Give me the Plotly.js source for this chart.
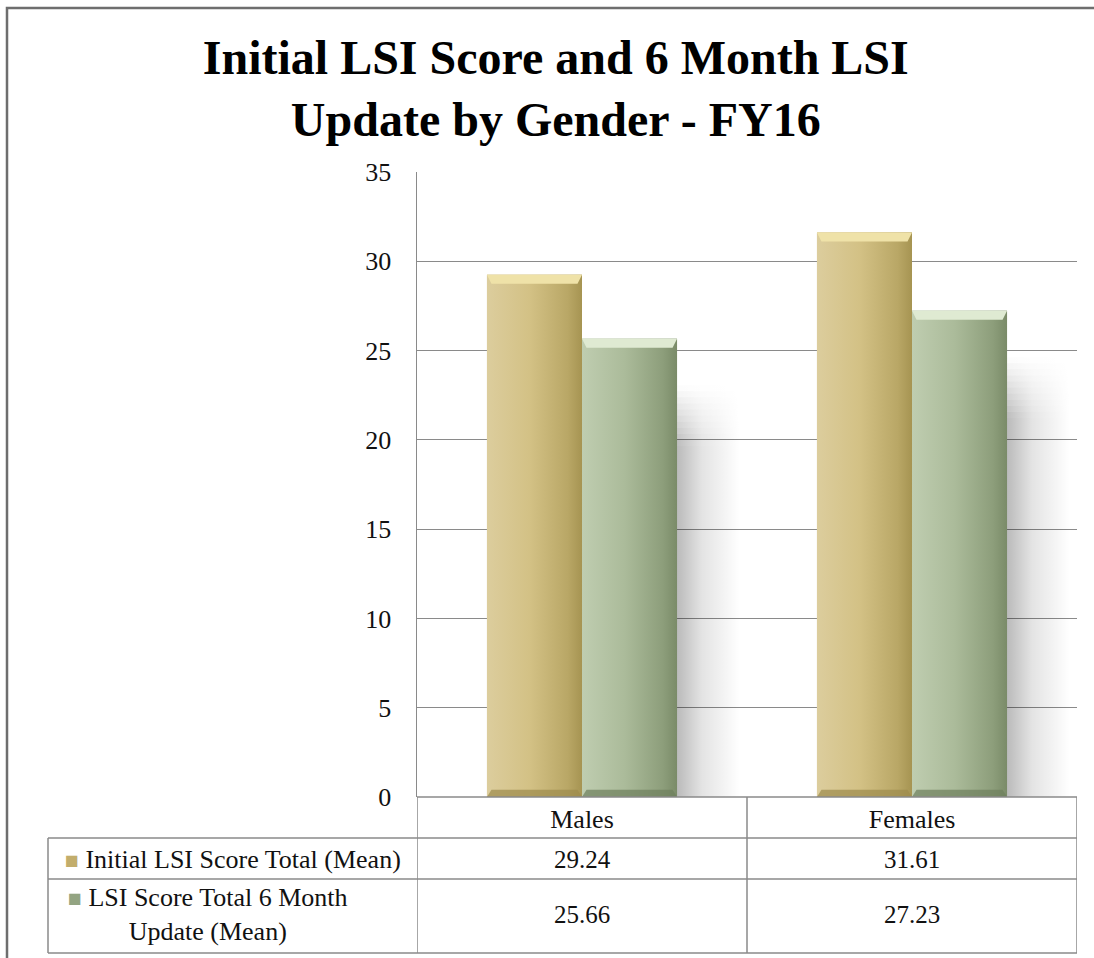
<!DOCTYPE html>
<html>
<head>
<meta charset="utf-8">
<script src="https://cdn.plot.ly/plotly-3.0.1.min.js"></script>
<style>
  html, body { margin: 0; padding: 0; background: #fff; }
  #chart { width: 1094px; height: 958px; }
</style>
</head>
<body>
<div id="chart"></div>
<script>
// Chart data
const categories = ['Males', 'Females'];
const initialScores = [29.24, 31.61];
const updateScores = [25.66, 27.23];
const seriesNames = ['Initial LSI Score Total (Mean)', 'LSI Score Total 6 Month<br>Update (Mean)'];

const FONT = 'Liberation Serif, Times New Roman, serif';

// Plot area in pixels (used to place the table lines and the frame)
const L = 417, R = 1077, T = 172, B = 797;
const px = x => (x - L) / (R - L);
const py = y => (B - y) / (B - T);

// Bar geometry in x data units (one category = 1 unit)
const barWidth = 0.288;
const unitPx = (B - T) / 35;
const bevelX = 9 / (R - L);
const bevelY = 9 / unitPx;

const series = [
    {
        name: seriesNames[0],
        values: initialScores,
        offset: -barWidth,
        color: '#cdbb80',
        key: '#c2ad6c',
        grad: [[0, '#dccd9d'], [0.45, '#d3c185'], [0.85, '#b9a766'], [1, '#a69452']],
        top: '#efe2a8',
        bottom: '#9c8a4c'
    },
    {
        name: seriesNames[1],
        values: updateScores,
        offset: 0,
        color: '#a9b998',
        key: '#93a482',
        grad: [[0, '#bfcdb0'], [0.45, '#abbb9a'], [0.85, '#8d9e7b'], [1, '#7a8b68']],
        top: '#dfead2',
        bottom: '#6e7f5d'
    }
];

const traces = [];

// Base bars
series.forEach(s => {
    traces.push({
        type: 'bar',
        name: s.name,
        x: categories.map((c, i) => i),
        y: s.values,
        width: barWidth,
        offset: s.offset,
        marker: { color: s.color, line: { width: 0 } },
        showlegend: false,
        hoverinfo: 'y'
    });
});

// Soft shadow behind the second bar of each group
function shadowPoly(x0, x1, y0, y1, alpha) {
    return {
        type: 'scatter', mode: 'lines',
        x: [x0, x1, x1, x0, x0],
        y: [y0, y0, y1, y1, y0],
        fill: 'toself',
        fillgradient: {
            type: 'horizontal',
            colorscale: [[0, 'rgba(0,0,0,' + alpha + ')'], [0.4, 'rgba(0,0,0,' + (alpha * 0.4).toFixed(3) + ')'], [1, 'rgba(0,0,0,0)']]
        },
        line: { width: 0 },
        hoverinfo: 'skip', showlegend: false
    };
}
const shadowSteps = 10;
updateScores.forEach((v, j) => {
    const x0 = j + barWidth;
    const x1 = x0 + 0.19;
    const fadeTop = v - 2.6, fadeBottom = v - 6;
    traces.push(shadowPoly(x0, x1, 0, fadeBottom, 0.27));
    for (let k = 0; k < shadowSteps; k++) {
        const ya = fadeBottom + (fadeTop - fadeBottom) * k / shadowSteps;
        const yb = fadeBottom + (fadeTop - fadeBottom) * (k + 1) / shadowSteps;
        traces.push(shadowPoly(x0, x1, ya, yb, 0.27 * (1 - (k + 0.5) / shadowSteps)));
    }
});

// Gradient faces and bevels on top of the bars
series.forEach(s => {
    s.values.forEach((v, j) => {
        const x0 = j + s.offset;
        const x1 = x0 + barWidth;
        traces.push({
            type: 'scatter', mode: 'lines',
            x: [x0, x1, x1, x0, x0],
            y: [0, 0, v, v, 0],
            fill: 'toself',
            fillgradient: { type: 'horizontal', colorscale: s.grad },
            line: { width: 0 },
            hoverinfo: 'skip', showlegend: false
        });
        // top bevel
        traces.push({
            type: 'scatter', mode: 'lines',
            x: [x0, x1, x1 - bevelX, x0 + bevelX, x0],
            y: [v, v, v - bevelY, v - bevelY, v],
            fill: 'toself', fillcolor: s.top,
            line: { width: 0 },
            hoverinfo: 'skip', showlegend: false
        });
        // bottom bevel
        traces.push({
            type: 'scatter', mode: 'lines',
            x: [x0, x1, x1 - bevelX, x0 + bevelX, x0],
            y: [0, 0, bevelY * 0.8, bevelY * 0.8, 0],
            fill: 'toself', fillcolor: s.bottom,
            opacity: 0.7,
            line: { width: 0 },
            hoverinfo: 'skip', showlegend: false
        });
    });
});

// Table lines and frame
const lineStyle = { color: '#8a8a8a', width: 1.5 };
const rowLines = [838, 879, 953];
const shapes = [
    // outer frame (left and top edges visible)
    { type: 'rect', xref: 'paper', yref: 'paper', x0: px(7), x1: px(1110), y0: py(8), y1: py(975),
      line: { color: '#6e6e6e', width: 2.5 } },
    // axis line / top of table
    { type: 'line', xref: 'paper', yref: 'paper', x0: 0, x1: 1, y0: 0, y1: 0, line: lineStyle }
];
rowLines.forEach(y => {
    shapes.push({ type: 'line', xref: 'paper', yref: 'paper', x0: px(48), x1: 1, y0: py(y), y1: py(y), line: lineStyle });
});
shapes.push({ type: 'line', xref: 'paper', yref: 'paper', x0: px(48), x1: px(48), y0: py(838), y1: py(953), line: lineStyle });
[-0.5, 0.5, 1.5].forEach(x => {
    shapes.push({ type: 'line', xref: 'x', yref: 'paper', x0: x, x1: x, y0: 0, y1: py(953), line: lineStyle });
});

// Table text
const annotations = [];
const rowCenters = [py(859), py(914)];
series.forEach((s, r) => {
    s.values.forEach((v, j) => {
        annotations.push({
            xref: 'x', yref: 'paper', x: j, y: rowCenters[r],
            xanchor: 'center', yanchor: 'middle',
            text: v.toFixed(2), showarrow: false,
            font: { family: FONT, size: 25, color: '#111' }
        });
    });
    annotations.push({
        xref: 'paper', yref: 'paper', x: px(r === 0 ? 233 : 208), y: rowCenters[r],
        xanchor: 'center', yanchor: 'middle', align: 'center',
        text: '<span style="color:' + s.key + ';font-size:23px">■</span> ' + s.name,
        showarrow: false,
        font: { family: FONT, size: 26, color: '#111' }
    });
});

const layout = {
    width: 1094,
    height: 958,
    paper_bgcolor: '#fff',
    plot_bgcolor: '#fff',
    margin: { l: L, r: 1094 - R, t: T, b: 958 - B },
    title: {
        text: 'Initial LSI Score and 6 Month LSI<br>Update by Gender - FY16',
        font: { family: FONT, size: 48, weight: 700, color: '#000' },
        x: 0.508, xanchor: 'center',
        y: 0.923, yanchor: 'top', yref: 'container'
    },
    barmode: 'overlay',
    showlegend: false,
    xaxis: {
        range: [-0.5, 1.5],
        tickvals: categories.map((c, i) => i),
        ticktext: categories,
        showgrid: false, zeroline: false, showline: false,
        ticks: '',
        ticklabelstandoff: 4,
        tickfont: { family: FONT, size: 26, color: '#111' },
        fixedrange: true
    },
    yaxis: {
        range: [0, 35],
        dtick: 5,
        showgrid: true, gridcolor: '#8a8a8a', gridwidth: 1,
        zeroline: false,
        showline: true, linecolor: '#8a8a8a', linewidth: 1.5,
        ticks: '',
        ticklabelstandoff: 19,
        tickfont: { family: FONT, size: 26, color: '#111' },
        fixedrange: true
    },
    shapes: shapes,
    annotations: annotations
};

Plotly.newPlot('chart', traces, layout, { displayModeBar: false, staticPlot: true });
</script>
</body>
</html>
